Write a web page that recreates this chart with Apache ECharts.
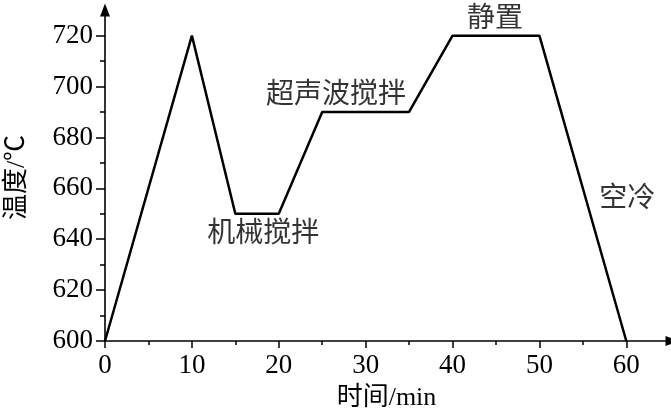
<!DOCTYPE html>
<html><head><meta charset="utf-8">
<script src="https://cdn.jsdelivr.net/npm/echarts@6/dist/echarts.min.js"></script>
<style>html,body{margin:0;padding:0;background:#fff}#c{width:671px;height:410px}</style>
</head><body><div id="c"></div>
<script>
var timeMin = [0, 10, 15, 20, 25, 35, 40, 50, 60];
var tempC = [600, 720, 650, 650, 690, 690, 720, 720, 600];
var xMajorTicks = [0, 10, 20, 30, 40, 50, 60];
var xMinorTicks = [5, 15, 25, 35, 45, 55];
var yMajorTicks = [600, 620, 640, 660, 680, 700, 720];
var yMinorTicks = [610, 630, 650, 670, 690, 710];
var noteText = ['静置', '超声波搅拌', '机械搅拌', '空冷'];
var noteX = [44.9, 26.6, 18.2, 60.1];
var noteY = [726.4, 696.4, 641.6, 655.6];

var serif = '"Liberation Serif", "Times New Roman", "Noto Sans CJK SC", serif';
var cjk = '"Liberation Serif", "Noto Sans CJK SC", serif';
var XMAX = 64.8, YMAX = 728.5;

var chart = echarts.init(document.getElementById('c'));
var axisLineStyle = {color: '#000', width: 1.6};
chart.setOption({
  animation: false,
  backgroundColor: '#fff',
  grid: {left: 105, right: 3, top: 14, bottom: 69, containLabel: false, outerBoundsMode: 'none'},
  xAxis: [{
    type: 'value', min: 0, max: XMAX,
    name: '时间/min', nameLocation: 'middle', nameGap: 44, nameMoveOverlap: false,
    nameTextStyle: {fontFamily: cjk, fontSize: 26, color: '#000'},
    axisLine: {show: true, lineStyle: axisLineStyle, symbol: ['none', 'triangle'], symbolSize: [10, 13], symbolOffset: [0, 4]},
    axisTick: {show: true, inside: false, length: 7, lineStyle: {color: '#000', width: 1.5}, customValues: xMajorTicks},
    axisLabel: {customValues: xMajorTicks, fontFamily: serif, fontSize: 27, color: '#000', margin: 11},
    splitLine: {show: false}
  }, {
    type: 'value', min: 0, max: XMAX, position: 'bottom',
    axisLine: {show: false},
    axisTick: {show: true, inside: false, length: 4, lineStyle: {color: '#000', width: 1.5}, customValues: xMinorTicks},
    axisLabel: {show: false},
    splitLine: {show: false}
  }],
  yAxis: [{
    type: 'value', min: 600, max: YMAX,
    name: '温度/℃', nameLocation: 'middle', nameGap: 75, nameRotate: 90, nameMoveOverlap: false,
    nameTextStyle: {fontFamily: cjk, fontSize: 26, color: '#000'},
    axisLine: {show: true, lineStyle: axisLineStyle, symbol: ['none', 'triangle'], symbolSize: [10, 13], symbolOffset: [0, 4]},
    axisTick: {show: true, inside: false, length: 9, lineStyle: {color: '#000', width: 1.5}, customValues: yMajorTicks},
    axisLabel: {customValues: yMajorTicks, fontFamily: serif, fontSize: 27, color: '#000', margin: 12},
    splitLine: {show: false}
  }, {
    type: 'value', min: 600, max: YMAX, position: 'left',
    axisLine: {show: false},
    axisTick: {show: true, inside: false, length: 5, lineStyle: {color: '#000', width: 1.5}, customValues: yMinorTicks},
    axisLabel: {show: false},
    splitLine: {show: false}
  }],
  series: [{
    type: 'line',
    data: timeMin.map(function (t, i) { return [t, tempC[i]]; }),
    symbol: 'none',
    lineStyle: {color: '#000', width: 2.5},
    z: 3
  }, {
    type: 'scatter',
    symbolSize: 1,
    itemStyle: {color: 'rgba(0,0,0,0)'},
    clip: false,
    data: noteText.map(function (s, i) { return {value: [noteX[i], noteY[i]], name: s}; }),
    label: {
      show: true, position: 'inside', formatter: '{b}',
      fontFamily: cjk, fontSize: 28, color: '#000'
    },
    z: 4
  }]
});
</script>
</body></html>
